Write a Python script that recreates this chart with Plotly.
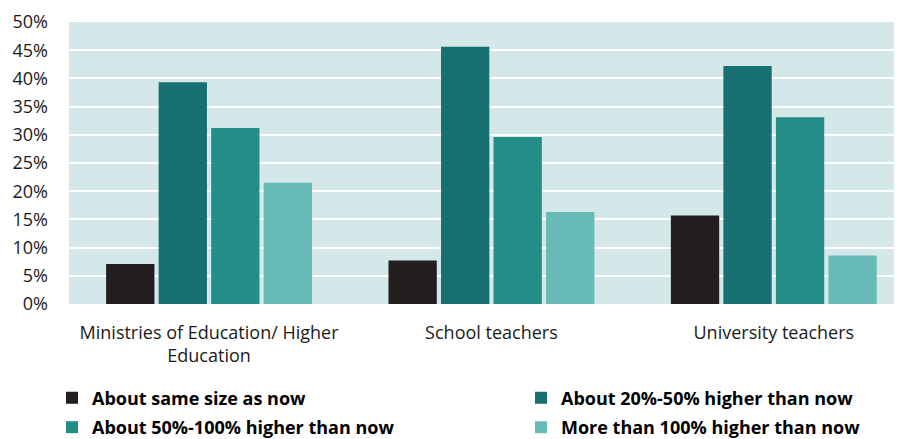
import plotly.graph_objects as go

categories = ["Ministries of Education/ Higher<br>Education", "School teachers", "University teachers"]
series_names = ["About same size as now", "About 20%-50% higher than now",
                "About 50%-100% higher than now", "More than 100% higher than now"]
same_size = [7.1, 7.7, 15.7]
higher_20_50 = [39.3, 45.6, 42.2]
higher_50_100 = [31.2, 29.6, 33.1]
more_than_100 = [21.5, 16.3, 8.6]
colors = ["#231f20", "#186f72", "#238e88", "#67bab8"]
legend_slots = ["legend", "legend2", "legend3", "legend4"]
tick_vals = [0, 5, 10, 15, 20, 25, 30, 35, 40, 45, 50]
tick_text = [f"{v}%" for v in tick_vals]

fig = go.Figure()
for name, vals, col, lg in zip(series_names,
                               [same_size, higher_20_50, higher_50_100, more_than_100],
                               colors, legend_slots):
    fig.add_trace(go.Bar(x=categories, y=vals, name=name, legend=lg,
                         marker=dict(color=col, line=dict(width=0))))

FONT = "Open Sans"
W, H = 894, 431
legend_common = dict(orientation="v", xref="container", yref="container",
                     xanchor="left", yanchor="top",
                     font=dict(family=FONT, size=18, color="#000000", weight="bold"),
                     itemclick=False, bgcolor="rgba(0,0,0,0)")
col_x = [44, 513, 44, 513]
row_top = [371.6, 371.6, 401.0, 401.0]
legend_layout = {lg: dict(x=cx / W, y=1 - ry / H, **legend_common)
                 for lg, cx, ry in zip(legend_slots, col_x, row_top)}

fig.update_layout(
    width=W, height=H,
    margin=dict(l=61, r=0, t=14, b=135, autoexpand=False),
    paper_bgcolor="white", plot_bgcolor="#d5e8e9",
    barmode="group", bargap=0.256, bargroupgap=0.08,
    font=dict(family=FONT, size=18, color="#1a1a1a"),
    showlegend=True,
    xaxis=dict(range=[-0.496, 2.454], showgrid=False, zeroline=False, showline=False,
               ticks="", tickfont=dict(size=18), automargin=False, ticklabelstandoff=16),
    yaxis=dict(range=[0, 50], tickvals=tick_vals, ticktext=tick_text, showgrid=True,
               gridcolor="white", gridwidth=2, zeroline=False, showline=False,
               ticks="", ticklabelstandoff=20, tickfont=dict(size=18), automargin=False),
    **legend_layout,
)
fig.write_html("out.html")
